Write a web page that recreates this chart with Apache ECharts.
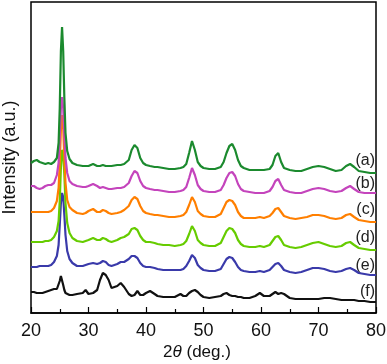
<!DOCTYPE html>
<html>
<head>
<meta charset="utf-8">
<script src="https://cdn.jsdelivr.net/npm/echarts@6/dist/echarts.min.js"></script>
<style>
html,body{margin:0;padding:0;background:#fff;}
#chart{width:387px;height:364px;}
</style>
</head>
<body>
<div id="chart"></div>
<script>
// 2θ sampling positions (deg.)
var twoTheta = [20,20.5,21,21.5,22,22.5,23,23.5,24,24.5,24.8,25.0,25.2,25.4,25.6,25.8,26.0,26.3,26.7,27.2,
  28,29,29.5,30,30.8,31.5,32,32.5,33,33.5,34,35,35.6,36.2,37,37.5,38,38.5,39,39.5,
  40,40.7,41.5,42,43,44,45,46,46.5,47,47.5,48,48.5,49,49.5,50,51,52,53,53.5,
  54,54.5,55,55.5,56,56.5,57,58,59,59.8,60.5,61.5,62,62.5,63,63.5,64,65,66,67,
  68,69,70,71,72,73,74,74.8,75.5,76.2,77,78,79,80];

// stacked intensities (a.u., offset per pattern)
var seriesA = [150,152,153,151,150,149,150,149,151,155,170,205,262,286,262,215,180,162,154,150,
  148,147,147,147,149,147,147,148,147,147,147,148,148,149,153,163,168,165,155,150,
  148,147,146,146,145,144,144,145,146,149,160,172,163,151,147,145,144,144,146,151,
  160,167,169,163,153,147,145,143,143,143,143,144,148,157,160,151,145,143,142,142,
  144,146,147,146,144,142,143,147,149,146,142,141,140,140];
var seriesB = [127,127,125,124,125,127,128,128,130,138,150,175,205,216,205,178,155,140,132,129,
  127,126,126,127,129,127,125,126,125,124,124,125,125,126,130,137,142,140,132,127,
  125,124,123,123,122,121,121,122,123,126,135,145,138,128,124,122,121,121,123,128,
  135,140,141,137,129,124,122,121,120,120,120,122,126,132,134,128,123,121,120,120,
  122,124,125,124,122,121,122,125,127,124,121,120,120,120];
var seriesC = [101,101,101,101,101,101,101,102,105,112,125,150,183,198,185,155,130,113,106,103,
  100,99,100,102,104,101,101,103,102,100,99,100,101,103,107,113,116,114,107,102,
  100,99,98,98,97,96,96,97,98,101,108,116,111,102,99,97,96,96,99,105,
  111,113,112,108,101,97,95,95,95,96,95,97,100,104,105,101,97,95,94,95,
  96,98,98,97,95,94,95,98,99,96,93,92,91,91];
var seriesD = [71,71,71,71,71,72,72,73,76,82,92,112,145,163,160,138,110,90,80,75,
  72,71,72,73,75,73,73,75,74,72,71,73,75,76,79,84,85,83,77,73,
  71,71,70,69,68,68,67,68,69,72,79,87,82,73,70,68,67,67,70,76,
  82,85,84,80,73,69,67,66,66,67,66,68,72,76,77,73,68,66,65,66,
  68,70,71,69,67,66,67,70,71,68,65,64,63,63];
var seriesE = [46,46,46,47,47,47,47,48,51,57,68,88,110,120,116,98,78,62,54,50,
  47,47,48,49,50,49,50,52,51,48,47,49,51,51,54,57,57,55,50,47,
  46,46,45,44,43,43,43,43,44,47,52,58,55,48,45,43,42,42,44,49,
  54,56,55,51,46,43,42,41,41,42,41,43,46,49,50,47,43,41,40,41,
  43,45,45,44,42,41,42,44,45,43,40,39,38,38];
var seriesF = [21,21,20,20,20,21,22,23,24,24,26,32,37,35,28,23,20,19,18,18,
  19,20,23,19,20,23,33,40,38,33,25,27,30,26,19,17,18,22,18,18,
  20,22,19,17,16,16,16,19,17,17,20,22,23,21,18,16,15,16,17,19,
  20,18,17,17,16,16,15,15,17,20,17,17,19,21,19,20,19,15,14,14,
  14,14,14,15,15,14,13,13,13,13,12,12,11,11];

var seriesNames = ['(a)','(b)','(c)','(d)','(e)','(f)'];
var seriesColors = ['#1b8a2e','#c444bc','#ff7f00','#66cc00','#3a3aaa','#111111'];
var labelY = [161,184,210,238,266,292];

var allData = [seriesA, seriesB, seriesC, seriesD, seriesE, seriesF];

var chart = echarts.init(document.getElementById('chart'), null, {renderer:'canvas'});
var FONT = '"Liberation Sans", Arial, sans-serif';

var series = [];
for (var k = allData.length - 1; k >= 0; k--) {
  (function(k){
    var vals = allData[k];
    series.push({
      name: seriesNames[k],
      type: 'line',
      data: twoTheta.map(function(t, i){ return [t, vals[i]]; }),
      symbol: 'none',
      smooth: false,
      lineStyle: {color: seriesColors[k], width: 2.2},
      itemStyle: {color: seriesColors[k]},
      z: 10 - k
    });
  })(k);
}

var graphics = seriesNames.map(function(n, i){
  return {
    type: 'text', x: 375, y: labelY[i],
    style: {text: n, font: '16px ' + FONT, fill: '#222', align: 'right', verticalAlign: 'middle'}
  };
});
graphics.push({
  type: 'text', x: 197, y: 352,
  style: {
    text: '{n|2}{t|θ}{n| (deg.)}',
    font: '17px ' + FONT,
    fill: '#111',
    align: 'center', verticalAlign: 'middle',
    rich: {
      n: {font: '17px ' + FONT, fill: '#111'},
      t: {font: 'italic 17px ' + FONT, fill: '#111'}
    }
  }
});

chart.setOption({
  animation: false,
  backgroundColor: '#fff',
  grid: {left: 31, right: 11, top: 2, bottom: 51, containLabel: false, outerBoundsMode: 'none',
         show: true, borderColor: '#000', borderWidth: 1.5, backgroundColor: 'transparent'},
  xAxis: {
    type: 'value', min: 20, max: 80, interval: 10,
    axisLine: {show: true, lineStyle: {color: '#000', width: 1.5}},
    axisTick: {show: true, inside: true, length: 6, lineStyle: {color: '#000', width: 1.2}},
    minorTick: {show: true, splitNumber: 2, length: 4, lineStyle: {color: '#000', width: 1.2}},
    axisLabel: {color: '#111', fontSize: 18, fontFamily: FONT, margin: 9},
    splitLine: {show: false}
  },
  yAxis: {
    type: 'value', min: 0, max: 311,
    name: 'Intensity (a.u.)', nameLocation: 'middle', nameGap: 12,
    nameTextStyle: {color: '#111', fontSize: 18, fontFamily: FONT},
    axisLine: {show: false}, axisTick: {show: false}, axisLabel: {show: false},
    splitLine: {show: false}
  },
  graphic: graphics,
  series: series
});
</script>
</body>
</html>
